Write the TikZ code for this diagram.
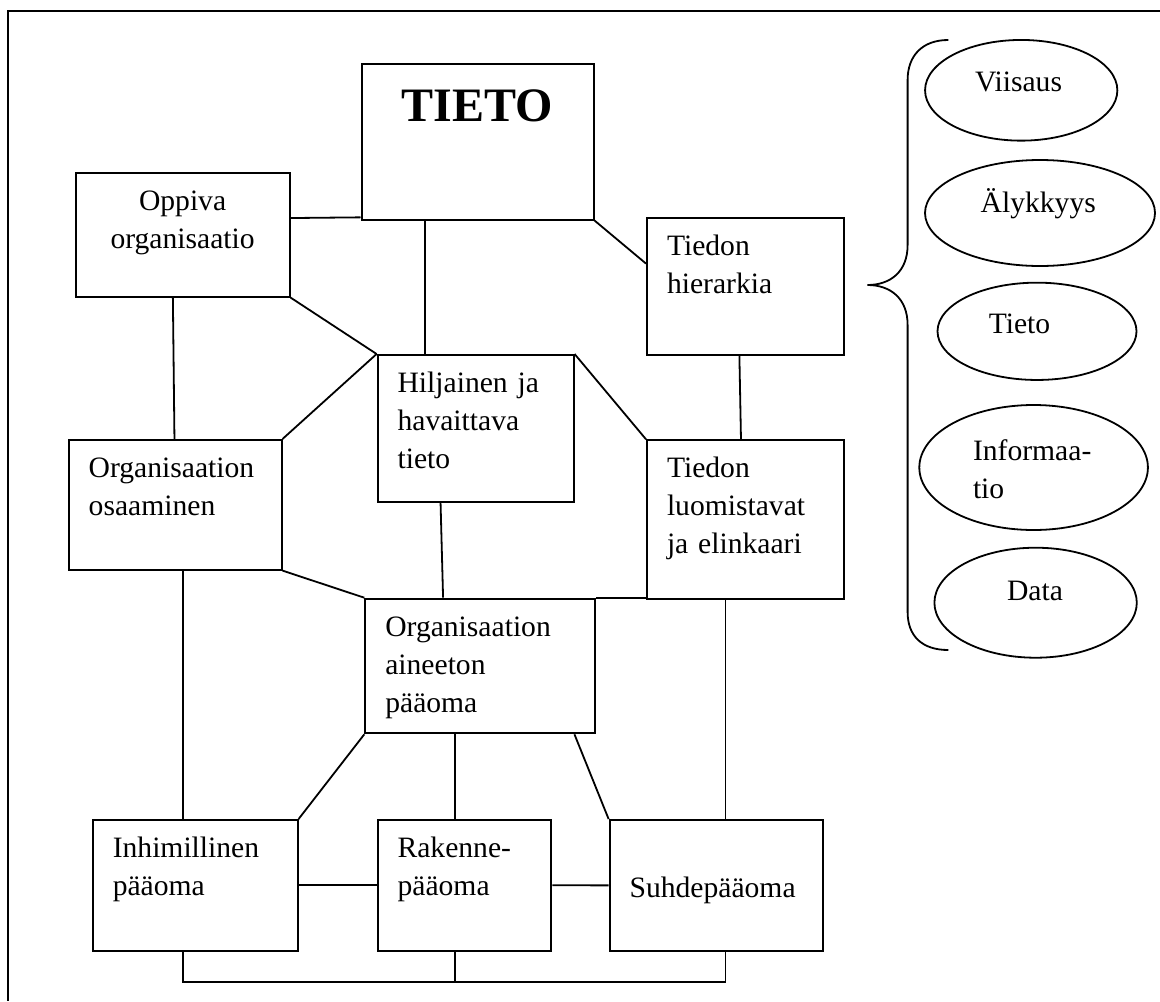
\documentclass[tikz,border=0pt]{standalone}
\usepackage{fontspec}
\setmainfont{Liberation Serif}
\usepackage{tikz}
\usetikzlibrary{shapes.geometric, calc}
\tikzset{
    concept/.style={rectangle, draw, line width=1pt, anchor=north west, inner xsep=10pt, inner ysep=0pt, text height=18.8pt, align=left, font=\fontsize{14.8}{19}\selectfont},
    level/.style={ellipse, draw, line width=0.9pt, inner sep=0pt, text height=10pt, align=left, font=\fontsize{14.8}{19}\selectfont},
    link/.style={line width=0.9pt}
}

\begin{document}
\begin{tikzpicture}[x=0.5pt, y=-0.5pt]
    \useasboundingbox (0,0) rectangle (1160,1001);
    \draw [line width=1pt] (1160,10.7) -- (8.3,10.7) -- (8.3,1001);

    % boxes
    \node (tieto) [concept, align=center, text width=96pt, text height=29pt, text depth=48.9pt, font=\fontsize{24}{28}\selectfont\bfseries] at (360.5,62.7) {TIETO};
    \node (oppiva) [concept, align=center, text width=87pt, text depth=42.85pt] at (74.6,172.3) {Oppiva\\organisaatio};
    \node (hierarkia) [concept, text width=78.35pt, text depth=49.5pt] at (646,217.3) {Tiedon\\hierarkia};
    \node (hiljainen) [concept, text width=78pt, text depth=54.65pt] at (376.6,354) {Hiljainen ja\\havaittava\\tieto};
    \node (osaaminen) [concept, text width=86.4pt, text depth=46pt] at (67.7,439) {Organisaation\\osaaminen};
    \node (luomistavat) [concept, text width=78.35pt, text height=18.7pt, text depth=60.8pt] at (646,439.3) {Tiedon\\luomistavat\\ja elinkaari};
    \node (aineeton) [concept, text width=94.85pt, text height=18.65pt, text depth=48.65pt] at (364.3,597.7) {Organisaation\\aineeton\\pääoma};
    \node (inhimillinen) [concept, text width=82.4pt, text depth=46.5pt] at (91.8,819) {Inhimillinen\\pääoma};
    \node (rakenne) [concept, text width=66.85pt, text depth=46.5pt] at (376.6,819) {Rakenne-\\pääoma};
    \node (suhde) [concept, text width=86.8pt, text height=38.5pt, text depth=26.85pt] at (608.6,819) {Suhdepääoma};

    % levels
    \node (viisaus) [level, text width=46.2pt, text depth=8.6pt, minimum width=96.15pt, minimum height=50.35pt] at (1021.2,90.3) {Viisaus};
    \node (alykkyys) [level, text width=59.3pt, text depth=10.3pt, minimum width=115pt, minimum height=53pt] at (1040,213) {Älykkyys};
    \node (tietotaso) [level, text width=48.2pt, text depth=8pt, minimum width=99.5pt, minimum height=48.65pt] at (1037,331.3) {Tieto};
    \node (informaatio) [level, text width=60.6pt, text depth=17.5pt, minimum width=114.3pt, minimum height=62.5pt] at (1033.6,467.5) {Informaa-\\tio};
    \node (data) [level, text width=28.6pt, text depth=12.7pt, minimum width=101.2pt, minimum height=55pt] at (1035.6,602.7) {Data};

    \draw [line width=0.9pt] (948.3,40) .. controls (922,40) and (907.6,56) .. (907.6,80) -- (907.6,245) .. controls (907.6,272) and (890,285) .. (867.5,285) .. controls (890,285) and (907.6,298) .. (907.6,325) -- (907.6,612) .. controls (907.6,636) and (922,650) .. (948.3,650);

    % links
    \draw [link] ($(oppiva.north east)!0.365!(oppiva.south east)$) -- ($(tieto.north west)!0.98!(tieto.south west)$);
    \draw [link] ($(tieto.south west)!0.275!(tieto.south east)$) coordinate (t1) -- (t1 |- hiljainen.north);
    \draw [link] (tieto.south east) -- ($(hierarkia.north west)!0.334!(hierarkia.south west)$);
    \draw [link] (oppiva.south east) -- (hiljainen.north west);
    \draw [link] (hiljainen.north west) -- (osaaminen.north east);
    \draw [link] ($(oppiva.south west)!0.455!(oppiva.south east)$) -- ($(osaaminen.north west)!0.497!(osaaminen.north east)$);
    \draw [link] ($(hierarkia.south west)!0.47!(hierarkia.south east)$) -- ($(luomistavat.north west)!0.478!(luomistavat.north east)$);
    \draw [link] (hiljainen.north east) -- (luomistavat.north west);
    \draw [link] ($(hiljainen.south west)!0.323!(hiljainen.south east)$) -- ($(aineeton.north west)!0.34!(aineeton.north east)$);
    \draw [link] (osaaminen.south east) -- (aineeton.north west);
    \draw [link] (aineeton.north east) -- (aineeton.north east -| luomistavat.west);
    \draw [link] ($(osaaminen.south west)!0.536!(osaaminen.south east)$) coordinate (o1) -- (o1 |- inhimillinen.north);
    \draw [link] (aineeton.south west) -- (inhimillinen.north east);
    \draw [link] ($(aineeton.south west)!0.393!(aineeton.south east)$) coordinate (a1) -- (a1 |- rakenne.north);
    \draw [link] ($(aineeton.south west)!0.907!(aineeton.south east)$) -- (suhde.north west);
    \draw [link] ($(luomistavat.south west)!0.40!(luomistavat.south east)$) coordinate (l1) -- (l1 |- suhde.north);
    \draw [link] (inhimillinen.east) -- (rakenne.west);
    \draw [link] (rakenne.east) -- (suhde.west);
    \draw [link] (o1 |- inhimillinen.south) -- ++(0,30.6) -| (l1 |- suhde.south);
    \draw [link] (a1 |- rakenne.south) -- ++(0,30.6);
\end{tikzpicture}
\end{document}
